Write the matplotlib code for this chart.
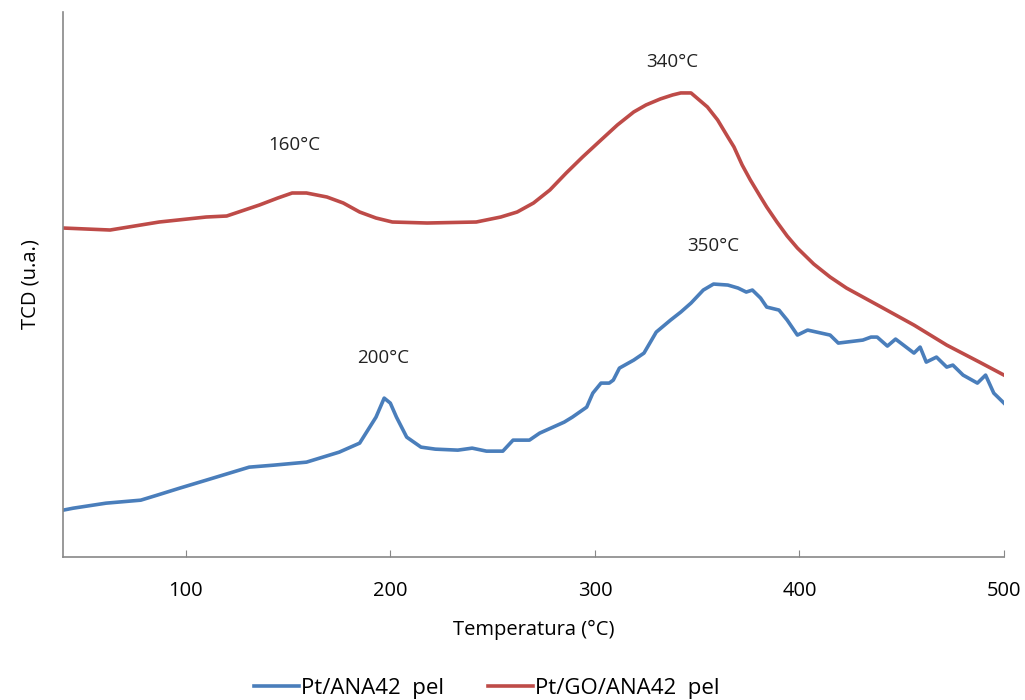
import matplotlib
matplotlib.use("Agg")
import matplotlib.pyplot as plt

# TPR data (signal in arbitrary units)
temp_red = [40, 63, 87, 110, 120, 136, 145, 152, 159, 169, 177, 185, 193, 201, 218, 242, 254, 262,
            270, 278, 286, 294, 303, 311, 319, 325, 332, 338, 342, 347, 351, 355, 360, 365, 368,
            372, 376, 381, 384, 389, 394, 399, 407, 415, 423, 440, 456, 472, 488, 500]
tcd_red = [329, 327, 335, 340, 341, 352, 359, 364, 364, 360, 354, 345, 339, 335, 334, 335, 340, 345,
           354, 367, 384, 400, 417, 432, 445, 452, 458, 462, 464, 464, 457, 450, 437, 420, 410,
           392, 377, 360, 350, 335, 321, 309, 293, 280, 269, 250, 232, 212, 195, 182]

temp_blue = [40, 45, 61, 78, 86, 97, 110, 131, 143, 159, 175, 185, 193, 197, 200, 203, 208, 215,
             222, 233, 240, 247, 255, 260, 268, 273, 285, 289, 296, 299, 303, 307, 309, 312, 319,
             324, 330, 337, 342, 347, 353, 358, 365, 370, 374, 377, 381, 384, 390, 394, 399, 404,
             415, 419, 431, 435, 438, 443, 447, 456, 459, 462, 467, 472, 475, 480, 487, 491,
             495, 500]
tcd_blue = [47, 49, 54, 57, 62, 69, 77, 90, 92, 95, 105, 114, 140, 159, 154, 140, 120, 110,
            108, 107, 109, 106, 106, 117, 117, 124, 135, 140, 150, 164, 174, 174, 177, 189, 197,
            204, 225, 237, 245, 254, 267, 273, 272, 269, 265, 267, 259, 250, 247, 237, 222, 227,
            222, 214, 217, 220, 220, 211, 218, 204, 210, 195, 200, 190, 192, 182, 174, 182,
            164, 154]

peak_labels = ["160°C", "340°C", "350°C", "200°C"]
peak_x = [153, 338, 358, 196.5]
peak_y = [412, 495, 311, 199]

plt.rcParams['font.family'] = ['Open Sans', 'DejaVu Sans']

fig = plt.figure(figsize=(10.25, 7), dpi=100)
ax = fig.add_axes([0.0615, 0.204, 0.918, 0.779])

ax.plot(temp_blue, tcd_blue, color="#4A7EBB", lw=2.6, label="Pt/ANA42  pel")
ax.plot(temp_red, tcd_red, color="#BE4B48", lw=2.6, label="Pt/GO/ANA42  pel")

for lab, x, y in zip(peak_labels, peak_x, peak_y):
    ax.text(x, y, lab, ha="center", va="center", fontsize=13.5, color="#222222")

ax.set_xlim(40, 500)
ax.set_ylim(0, 545)
ax.set_xticks([100, 200, 300, 400, 500])
ax.set_yticks([])
ax.tick_params(axis="x", direction="in", length=5, color="#888888", labelsize=14.5, pad=17)
for s in ["top", "right"]:
    ax.spines[s].set_visible(False)
for s in ["left", "bottom"]:
    ax.spines[s].set_color("#888888")
    ax.spines[s].set_linewidth(1.2)

ax.set_xlabel("Temperatura (°C)", fontsize=14.5, labelpad=14)
ax.set_ylabel("TCD (u.a.)", fontsize=14.5, labelpad=16)

fig.legend(loc="lower center", bbox_to_anchor=(0.475, -0.027), ncol=2, frameon=False,
           fontsize=16, handlelength=2.0, handletextpad=0.1, columnspacing=2.0)

plt.savefig("out.png", dpi=100)
